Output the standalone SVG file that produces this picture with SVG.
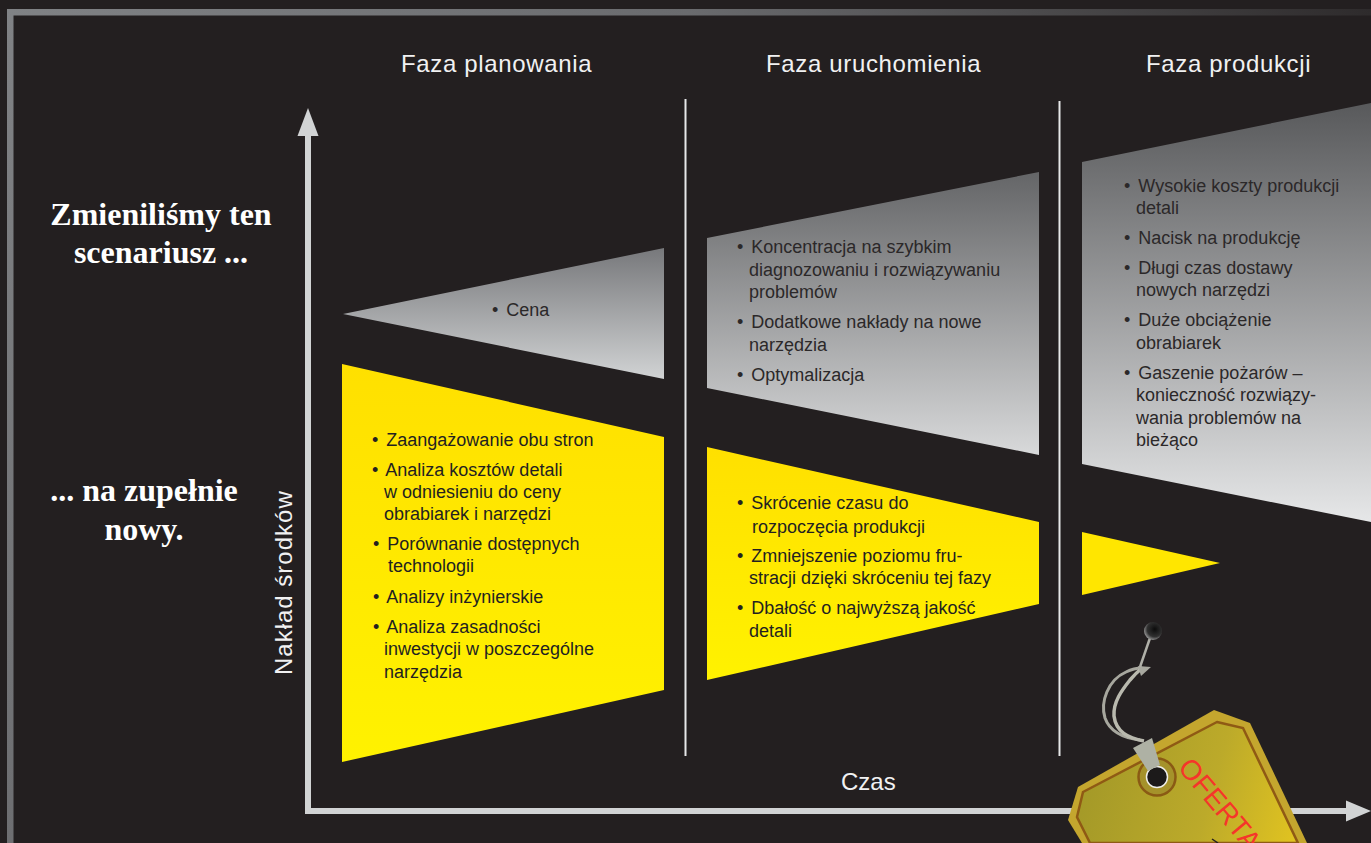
<svg xmlns="http://www.w3.org/2000/svg" width="1371" height="843" viewBox="0 0 1371 843">
<style>
text{font-family:"Liberation Sans",Arial,sans-serif}
.h{font-size:24px;fill:#f1f1f2;letter-spacing:.65px}
.b{font-size:18px;fill:#231f20}
.g{font-size:18px;fill:#2b2829}
.s{font-family:"Liberation Serif","Times New Roman",serif;font-weight:bold;font-size:32px;fill:#fff;text-anchor:middle}
.ax{fill:#d1d3d4}
.sep{stroke:#e6e7e8;stroke-width:2;fill:none}
</style>
<defs>
<linearGradient id="frame" x1="0" y1="0" x2="1" y2="0"><stop offset="0" stop-color="#808285"/><stop offset="0.5" stop-color="#6a6b6e"/><stop offset="1" stop-color="#2e2b2c"/></linearGradient>
<linearGradient id="fl" x1="0" y1="0" x2="0" y2="1"><stop offset="0" stop-color="#808285"/><stop offset="1" stop-color="#6d6e71"/></linearGradient>
<linearGradient id="g1" gradientUnits="userSpaceOnUse" x1="0" y1="248" x2="0" y2="379"><stop offset="0" stop-color="#77787b"/><stop offset="1" stop-color="#d1d3d4"/></linearGradient>
<linearGradient id="g2" gradientUnits="userSpaceOnUse" x1="0" y1="172" x2="0" y2="455"><stop offset="0" stop-color="#646567"/><stop offset="1" stop-color="#d8d9da"/></linearGradient>
<linearGradient id="g3" gradientUnits="userSpaceOnUse" x1="0" y1="103" x2="0" y2="522"><stop offset="0" stop-color="#58595b"/><stop offset="1" stop-color="#e6e7e8"/></linearGradient>
<linearGradient id="y1" gradientUnits="userSpaceOnUse" x1="0" y1="364" x2="0" y2="762"><stop offset="0" stop-color="#ffe000"/><stop offset="1" stop-color="#fff200"/></linearGradient>
<linearGradient id="y2" gradientUnits="userSpaceOnUse" x1="0" y1="447" x2="0" y2="680"><stop offset="0" stop-color="#ffe000"/><stop offset="1" stop-color="#fff200"/></linearGradient>
<linearGradient id="tag" gradientUnits="userSpaceOnUse" x1="1090" y1="780" x2="1300" y2="840"><stop offset="0" stop-color="#a59a28"/><stop offset="0.55" stop-color="#bcaa2a"/><stop offset="1" stop-color="#e2c420"/></linearGradient>
<radialGradient id="pin" cx="0.6" cy="0.4" r="0.6"><stop offset="0" stop-color="#0c0c0c"/><stop offset="0.7" stop-color="#303030"/><stop offset="1" stop-color="#8a8a8a"/></radialGradient>
</defs>
<rect width="1371" height="843" fill="#231f20"/>
<g id="frame-border">
<rect x="7" y="9" width="1364" height="6.5" fill="url(#frame)"/>
<rect x="7" y="9" width="6.5" height="834" fill="url(#fl)"/>
</g>
<g id="connectors">
<rect class="ax" x="305" y="135" width="6" height="678"/>
<polygon class="ax" points="308,108 297.500,136 318.500,136"/>
<rect class="ax" x="305" y="808" width="1043" height="6"/>
<polygon class="ax" points="1371,811 1346,800.500 1346,821.500"/>
<line class="sep" x1="685.500" y1="99" x2="685.500" y2="756"/>
<line class="sep" x1="1059.500" y1="101" x2="1059.500" y2="756"/>
</g>
<g id="headers">
<text class="h" x="401" y="72">Faza planowania</text>
<text class="h" x="766" y="72">Faza uruchomienia</text>
<text class="h" x="1146" y="72">Faza produkcji</text>
</g>
<g id="left-labels">
<text class="s" x="161" y="225">Zmieniliśmy ten</text>
<text class="s" x="161" y="263">scenariusz ...</text>
<text class="s" x="144" y="501">... na zupełnie</text>
<text class="s" x="144" y="540">nowy.</text>
<text class="h" style="letter-spacing:1px" transform="translate(292 675) rotate(-90)">Nakład środków</text>
<text class="h" style="letter-spacing:0" x="841" y="790">Czas</text>
</g>
<g id="planning-grey">
<polygon points="343,314 664,248 664,379" fill="url(#g1)"/>
<text class="g" x="492" y="316">• <tspan dx="3">Cena</tspan></text>
</g>
<g id="planning-yellow">
<polygon points="342,364 664,437 664,690 342,762" fill="url(#y1)"/>
<text class="b" x="372" y="446">• <tspan dx="3">Zaangażowanie obu stron</tspan></text>
<text class="b" x="372" y="476">• <tspan dx="3">Analiza kosztów detali</tspan></text>
<text class="b" x="384" y="498">w odniesieniu do ceny</text>
<text class="b" x="384" y="520">obrabiarek i narzędzi</text>
<text class="b" x="373" y="550">• <tspan dx="3">Porównanie dostępnych</tspan></text>
<text class="b" x="388" y="572">technologii</text>
<text class="b" x="373" y="603">• <tspan dx="3">Analizy inżynierskie</tspan></text>
<text class="b" x="373" y="633">• <tspan dx="3">Analiza zasadności</tspan></text>
<text class="b" x="384" y="655">inwestycji w poszczególne</text>
<text class="b" x="384" y="678">narzędzia</text>
</g>
<g id="startup-grey">
<polygon points="707,238 1039,172 1039,455 707,388" fill="url(#g2)"/>
<text class="g" x="737" y="253">• <tspan dx="3">Koncentracja na szybkim</tspan></text>
<text class="g" x="749" y="276">diagnozowaniu i rozwiązywaniu</text>
<text class="g" x="749" y="298">problemów</text>
<text class="g" x="737" y="328">• <tspan dx="3">Dodatkowe nakłady na nowe</tspan></text>
<text class="g" x="749" y="351">narzędzia</text>
<text class="g" x="737" y="381">• <tspan dx="3">Optymalizacja</tspan></text>
</g>
<g id="startup-yellow">
<polygon points="707,447 1039,522 1039,604 707,680" fill="url(#y2)"/>
<text class="b" x="737" y="509">• <tspan dx="3">Skrócenie czasu do</tspan></text>
<text class="b" x="752" y="533">rozpoczęcia produkcji</text>
<text class="b" x="737" y="562">• <tspan dx="3">Zmniejszenie poziomu fru-</tspan></text>
<text class="b" x="749" y="584">stracji dzięki skróceniu tej fazy</text>
<text class="b" x="737" y="614">• <tspan dx="3">Dbałość o najwyższą jakość</tspan></text>
<text class="b" x="749" y="637">detali</text>
</g>
<g id="production-grey">
<polygon points="1082,162 1371,103 1371,522 1082,464" fill="url(#g3)"/>
<text class="g" x="1124" y="192">• <tspan dx="3">Wysokie koszty produkcji</tspan></text>
<text class="g" x="1136" y="214">detali</text>
<text class="g" x="1124" y="244">• <tspan dx="3">Nacisk na produkcję</tspan></text>
<text class="g" x="1124" y="274">• <tspan dx="3">Długi czas dostawy</tspan></text>
<text class="g" x="1136" y="296">nowych narzędzi</text>
<text class="g" x="1124" y="326">• <tspan dx="3">Duże obciążenie</tspan></text>
<text class="g" x="1136" y="349">obrabiarek</text>
<text class="g" x="1124" y="379">• <tspan dx="3">Gaszenie pożarów –</tspan></text>
<text class="g" x="1136" y="401">konieczność rozwiązy-</text>
<text class="g" x="1136" y="424">wania problemów na</text>
<text class="g" x="1136" y="446">bieżąco</text>
</g>
<g id="production-yellow">
<polygon points="1082,532 1220,563 1082,595" fill="#ffe600"/>
</g>
<g id="offer-tag">
<polygon points="1214,710 1250,723 1307,843 1082,843 1068,820 1078,787" fill="#c4a62e"/>
<polygon points="1217,722 1243,728 1298,843 1090,843 1077,817 1083,792" fill="url(#tag)" stroke="#8f5a14" stroke-width="2.500"/>
<circle cx="1157" cy="777" r="18.500" fill="#a5922a" stroke="#8a5a14" stroke-width="2.500"/>
<circle cx="1157" cy="777" r="10.500" fill="#1c1a1a" stroke="#eeeee8" stroke-width="1.500"/>
<path d="M1140 740C1124 738 1110 732 1105 718C1100 702 1108 680 1126 672Q1134 668 1142 668" fill="none" stroke="#a7a79e" stroke-width="3"/>
<path d="M1144 741C1128 738 1116 732 1114 716C1113 702 1122 690 1130 680Q1136 673 1142 668" fill="none" stroke="#b9b9ae" stroke-width="3.500"/>
<polygon points="1138,666 1151,667 1141,676" fill="#a8a89f"/>
<polygon points="1133,748 1152,738 1160,765 1148,771" fill="#aeb1a4"/>
<line x1="1140" y1="667" x2="1150" y2="638" stroke="#b0b0a8" stroke-width="2.500"/>
<circle cx="1153" cy="631" r="9" fill="url(#pin)"/>
<text transform="translate(1177 768) rotate(50)" style="font-size:28px;fill:#f5362a">OFERTA</text>
<line x1="1212" y1="839" x2="1218" y2="843" stroke="#231f20" stroke-width="1.500"/>
</g>
</svg>
